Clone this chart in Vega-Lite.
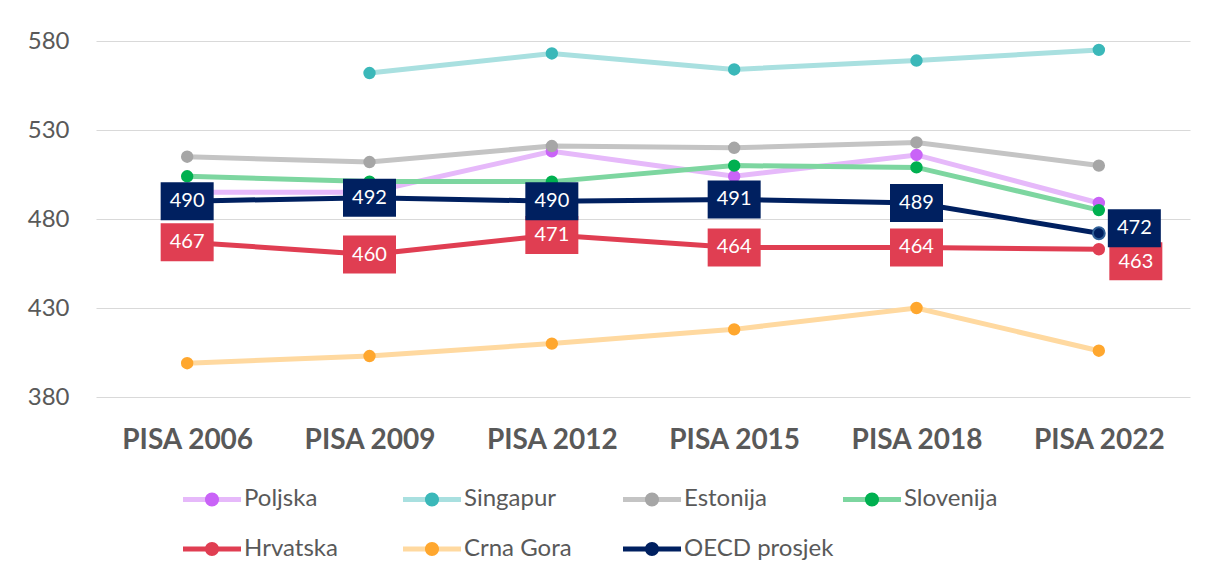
{
  "$schema": "https://vega.github.io/schema/vega-lite/v6.json",
  "width": 1094,
  "height": 356,
  "autosize": "none",
  "padding": {"left": 96, "top": 41, "right": 19, "bottom": 181},
  "background": "white",
  "config": {
    "font": "Lato",
    "view": {"stroke": null},
    "legend": {"padding": 0}
  },
  "data": {
    "values": [
      {"country": "Poljska", "period": "PISA 2006", "score": 495},
      {"country": "Poljska", "period": "PISA 2009", "score": 495},
      {"country": "Poljska", "period": "PISA 2012", "score": 518},
      {"country": "Poljska", "period": "PISA 2015", "score": 504},
      {"country": "Poljska", "period": "PISA 2018", "score": 516},
      {"country": "Poljska", "period": "PISA 2022", "score": 489},
      {"country": "Singapur", "period": "PISA 2009", "score": 562},
      {"country": "Singapur", "period": "PISA 2012", "score": 573},
      {"country": "Singapur", "period": "PISA 2015", "score": 564},
      {"country": "Singapur", "period": "PISA 2018", "score": 569},
      {"country": "Singapur", "period": "PISA 2022", "score": 575},
      {"country": "Estonija", "period": "PISA 2006", "score": 515},
      {"country": "Estonija", "period": "PISA 2009", "score": 512},
      {"country": "Estonija", "period": "PISA 2012", "score": 521},
      {"country": "Estonija", "period": "PISA 2015", "score": 520},
      {"country": "Estonija", "period": "PISA 2018", "score": 523},
      {"country": "Estonija", "period": "PISA 2022", "score": 510},
      {"country": "Slovenija", "period": "PISA 2006", "score": 504},
      {"country": "Slovenija", "period": "PISA 2009", "score": 501},
      {"country": "Slovenija", "period": "PISA 2012", "score": 501},
      {"country": "Slovenija", "period": "PISA 2015", "score": 510},
      {"country": "Slovenija", "period": "PISA 2018", "score": 509},
      {"country": "Slovenija", "period": "PISA 2022", "score": 485},
      {"country": "Hrvatska", "period": "PISA 2006", "score": 467},
      {"country": "Hrvatska", "period": "PISA 2009", "score": 460},
      {"country": "Hrvatska", "period": "PISA 2012", "score": 471},
      {"country": "Hrvatska", "period": "PISA 2015", "score": 464},
      {"country": "Hrvatska", "period": "PISA 2018", "score": 464},
      {"country": "Hrvatska", "period": "PISA 2022", "score": 463},
      {"country": "Crna Gora", "period": "PISA 2006", "score": 399},
      {"country": "Crna Gora", "period": "PISA 2009", "score": 403},
      {"country": "Crna Gora", "period": "PISA 2012", "score": 410},
      {"country": "Crna Gora", "period": "PISA 2015", "score": 418},
      {"country": "Crna Gora", "period": "PISA 2018", "score": 430},
      {"country": "Crna Gora", "period": "PISA 2022", "score": 406},
      {"country": "OECD prosjek", "period": "PISA 2006", "score": 490},
      {"country": "OECD prosjek", "period": "PISA 2009", "score": 492},
      {"country": "OECD prosjek", "period": "PISA 2012", "score": 490},
      {"country": "OECD prosjek", "period": "PISA 2015", "score": 491},
      {"country": "OECD prosjek", "period": "PISA 2018", "score": 489},
      {"country": "OECD prosjek", "period": "PISA 2022", "score": 472}
    ]
  },
  "encoding": {
    "x": {
      "field": "period",
      "type": "ordinal",
      "scale": {"type": "point", "padding": 0.5},
      "axis": {
        "title": null,
        "domain": false,
        "ticks": false,
        "tickSize": 0,
        "grid": false,
        "labelAngle": 0,
        "labelFontSize": 28,
        "labelFontWeight": "bold",
        "labelColor": "#595959",
        "labelPadding": 29
      }
    },
    "y": {
      "field": "score",
      "type": "quantitative",
      "scale": {"domain": [380, 580], "nice": false, "zero": false},
      "axis": {
        "title": null,
        "values": [380, 430, 480, 530, 580],
        "domain": false,
        "ticks": false,
        "tickSize": 0,
        "grid": true,
        "gridColor": "#d9d9d9",
        "gridWidth": 1.2,
        "labelFontSize": 24,
        "labelColor": "#595959",
        "labelPadding": 27
      }
    }
  },
  "layer": [
    {
      "mark": {"type": "line", "strokeWidth": 5},
      "encoding": {
        "stroke": {
          "field": "country",
          "type": "nominal",
          "scale": {
            "domain": ["Poljska", "Singapur", "Estonija", "Slovenija", "Hrvatska", "Crna Gora", "OECD prosjek"],
            "range": ["#e6b9fa", "#a9e0e0", "#c4c4c4", "#7dd6a0", "#e03e52", "#ffd9a0", "#002060"]
          },
          "legend": {
            "orient": "none",
            "legendX": 99,
            "legendY": 441,
            "direction": "horizontal",
            "columns": 4,
            "title": null,
            "symbolType": "M-2,0L2,0M0,-0.483L0,-0.483M0,0.483L0,0.483",
            "symbolSize": 841,
            "symbolStrokeWidth": 5,
            "labelFontSize": 24,
            "labelColor": "#595959",
            "labelOffset": 15,
            "rowPadding": 14,
            "columnPadding": -1,
            "gridAlign": "all",
            "labelLimit": 300
          }
        }
      }
    },
    {
      "mark": {"type": "point", "filled": true, "size": 154, "opacity": 1},
      "encoding": {
        "fill": {
          "field": "country",
          "type": "nominal",
          "scale": {
            "domain": ["Poljska", "Singapur", "Estonija", "Slovenija", "Hrvatska", "Crna Gora", "OECD prosjek"],
            "range": ["#c963f7", "#3bb8b9", "#a6a6a6", "#00b050", "#e03e52", "#ffa72e", "#002060"]
          },
          "legend": {
            "orient": "none",
            "legendX": 99,
            "legendY": 441,
            "direction": "horizontal",
            "columns": 4,
            "title": null,
            "symbolType": "M-2,0L2,0M-0.483,0A0.483,0.483 0 1,0 0.483,0A0.483,0.483 0 1,0 -0.483,0Z",
            "symbolSize": 841,
            "symbolStrokeWidth": 5,
            "symbolStrokeColor": "transparent",
            "labelFontSize": 24,
            "labelColor": "#595959",
            "labelOpacity": 0,
            "labelOffset": 15,
            "rowPadding": 14,
            "columnPadding": -1,
            "gridAlign": "all",
            "labelLimit": 300
          }
        }
      }
    },
    {
      "transform": [{"filter": "datum.country === 'OECD prosjek'"}],
      "mark": {"type": "point", "filled": true, "size": 140, "opacity": 1, "fill": "#002060", "stroke": "#2f5f96", "strokeWidth": 2}
    },
    {
      "transform": [{"filter": "datum.country === 'Hrvatska' && datum.period !== 'PISA 2022'"}],
      "mark": {"type": "point", "shape": "M-1,-0.717L1,-0.717L1,0.717L-1,0.717Z", "size": 2809, "filled": true, "fill": "#e03e52", "opacity": 1, "strokeWidth": 0}
    },
    {
      "transform": [{"filter": "datum.country === 'Hrvatska' && datum.period !== 'PISA 2022'"}],
      "mark": {"type": "text", "color": "white", "fontSize": 20, "align": "center", "baseline": "middle"},
      "encoding": {"text": {"field": "score", "type": "quantitative"}}
    },
    {
      "transform": [{"filter": "datum.country === 'Hrvatska' && datum.period === 'PISA 2022'"}],
      "mark": {"type": "point", "shape": "M-1,-0.717L1,-0.717L1,0.717L-1,0.717Z", "size": 2809, "filled": true, "fill": "#e03e52", "opacity": 1, "strokeWidth": 0, "xOffset": 37, "yOffset": 12}
    },
    {
      "transform": [{"filter": "datum.country === 'Hrvatska' && datum.period === 'PISA 2022'"}],
      "mark": {"type": "text", "color": "white", "fontSize": 20, "align": "center", "baseline": "middle", "xOffset": 37, "yOffset": 13},
      "encoding": {"text": {"field": "score", "type": "quantitative"}}
    },
    {
      "transform": [{"filter": "datum.country === 'OECD prosjek' && datum.period !== 'PISA 2022'"}],
      "mark": {"type": "point", "shape": "M-1,-0.717L1,-0.717L1,0.717L-1,0.717Z", "size": 2809, "filled": true, "fill": "#002060", "opacity": 1, "strokeWidth": 0}
    },
    {
      "transform": [{"filter": "datum.country === 'OECD prosjek' && datum.period !== 'PISA 2022'"}],
      "mark": {"type": "text", "color": "white", "fontSize": 20, "align": "center", "baseline": "middle"},
      "encoding": {"text": {"field": "score", "type": "quantitative"}}
    },
    {
      "transform": [{"filter": "datum.country === 'OECD prosjek' && datum.period === 'PISA 2022'"}],
      "mark": {"type": "point", "shape": "M-1,-0.717L1,-0.717L1,0.717L-1,0.717Z", "size": 2809, "filled": true, "fill": "#002060", "opacity": 1, "strokeWidth": 0, "xOffset": 35.5, "yOffset": -5}
    },
    {
      "transform": [{"filter": "datum.country === 'OECD prosjek' && datum.period === 'PISA 2022'"}],
      "mark": {"type": "text", "color": "white", "fontSize": 20, "align": "center", "baseline": "middle", "xOffset": 35.5, "yOffset": -5},
      "encoding": {"text": {"field": "score", "type": "quantitative"}}
    }
  ],
  "resolve": {"legend": {"stroke": "independent", "fill": "independent"}}
}
